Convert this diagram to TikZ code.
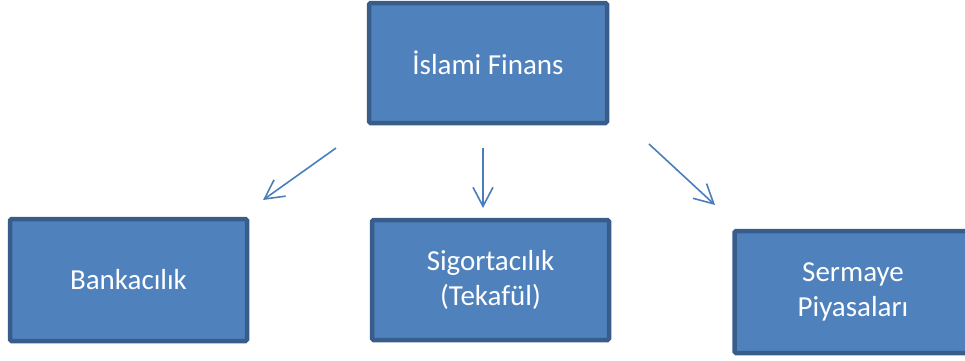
\documentclass[tikz,border=0pt]{standalone}
\usepackage{fontspec}
\setmainfont{Carlito}
\usetikzlibrary{arrows.meta}
\definecolor{boxfill}{HTML}{4F81BD}
\definecolor{boxline}{HTML}{385D8A}
\definecolor{arrowcol}{HTML}{4A7EBB}
\begin{document}
\begin{tikzpicture}[x=1pt,y=-1pt,
  catbox/.style={draw=boxline,fill=boxfill,line width=4.5pt,rounded corners=1.5pt,
    text=white,font=\fontsize{29}{35}\selectfont,align=center,inner sep=0pt},
  conn/.style={draw=arrowcol,line width=1.6pt,-{Straight Barb[length=19pt,width=20pt,line width=1.6pt]}}]
\useasboundingbox (0,0) rectangle (965,360);
\clip (0,0) rectangle (965,360);
\node[catbox,minimum width=238pt,minimum height=120pt] (top) at (488,63) {İslami Finans};
\node[catbox,minimum width=237pt,minimum height=122pt] (bank) at (128.5,280) {Bankacılık};
\node[catbox,minimum width=237pt,minimum height=120pt] (sig) at (490.5,280) {Sigortacılık\\(Tekafül)};
\node[catbox,minimum width=237pt,minimum height=122pt] (serm) at (853,292) {Sermaye\\Piyasaları};
\coordinate (a1s) at (336,148);
\coordinate (a1e) at (263,200);
\coordinate (a2s) at (483,148);
\coordinate (a2e) at (483,208);
\coordinate (a3s) at (649,144);
\coordinate (a3e) at (715,205);
\draw[conn] (a1s) -- (a1e);
\draw[conn] (a2s) -- (a2e);
\draw[conn] (a3s) -- (a3e);
\end{tikzpicture}
\end{document}
